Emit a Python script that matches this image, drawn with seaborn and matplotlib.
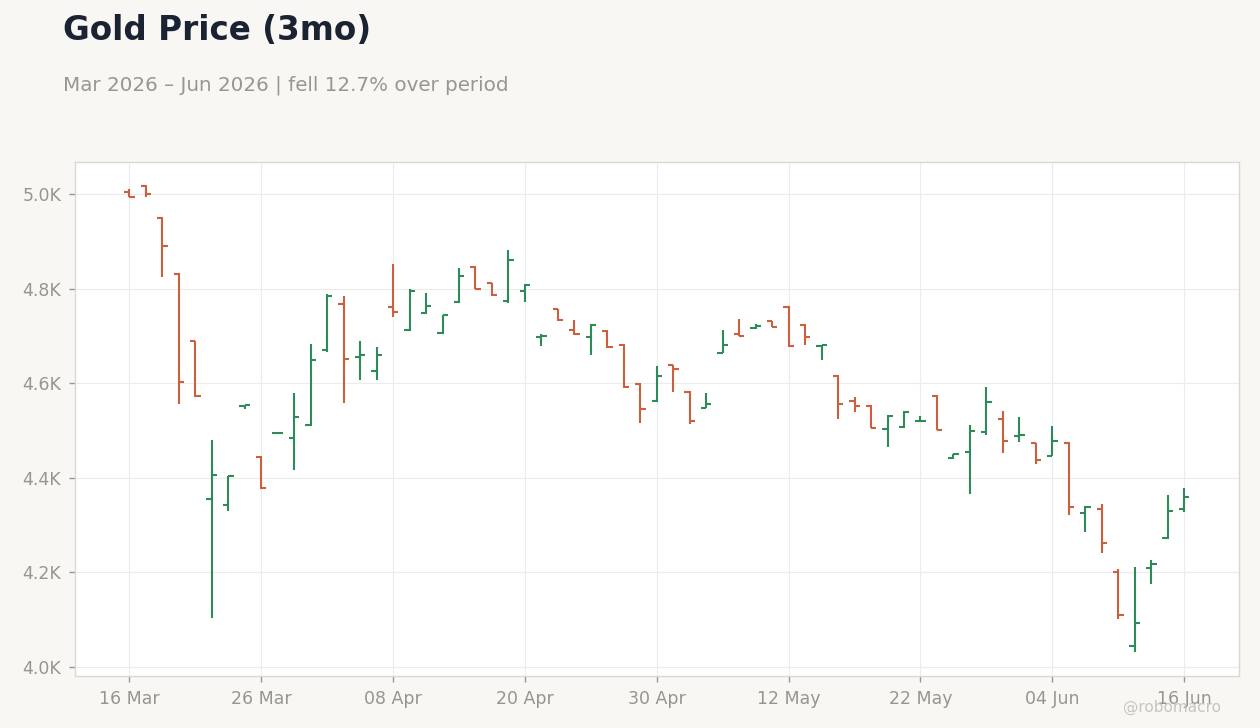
import numpy as np
import pandas as pd
import seaborn as sns
import matplotlib.pyplot as plt

# trading days 16 Mar - 16 Jun 2026 (Good Friday and Memorial Day closed)
holidays = ["2026-04-03", "2026-05-25"]
dates = pd.bdate_range("2026-03-16", "2026-06-16", freq="C", holidays=holidays)

opens = [5004, 5017, 4950, 4832, 4689, 4356, 4342, 4553, 4445, 4494, 4485, 4512,
         4670, 4767, 4656, 4625, 4761, 4712, 4748, 4706, 4772, 4846, 4812, 4774,
         4795, 4698, 4757, 4712, 4697, 4711, 4682, 4599, 4562, 4638, 4582, 4548,
         4665, 4705, 4716, 4731, 4762, 4724, 4679, 4616, 4563, 4553, 4504, 4508,
         4520, 4574, 4441, 4454, 4496, 4524, 4489, 4473, 4447, 4474, 4326, 4334,
         4201, 4045, 4210, 4273, 4335]
highs = [5010, 5019, 4951, 4833, 4690, 4481, 4404, 4555, 4446, 4496, 4580, 4684,
         4789, 4785, 4690, 4677, 4852, 4800, 4792, 4745, 4843, 4847, 4813, 4881,
         4811, 4704, 4758, 4733, 4725, 4712, 4683, 4600, 4636, 4639, 4583, 4579,
         4713, 4736, 4726, 4732, 4764, 4725, 4681, 4617, 4570, 4554, 4533, 4541,
         4530, 4575, 4451, 4512, 4592, 4541, 4528, 4474, 4510, 4475, 4340, 4345,
         4208, 4211, 4226, 4364, 4378]
lows = [4993, 4995, 4824, 4556, 4571, 4104, 4330, 4545, 4376, 4494, 4416, 4510,
        4667, 4559, 4606, 4608, 4740, 4711, 4746, 4704, 4770, 4799, 4784, 4770,
        4772, 4678, 4732, 4703, 4659, 4674, 4591, 4516, 4561, 4582, 4513, 4547,
        4664, 4699, 4714, 4718, 4676, 4680, 4650, 4525, 4540, 4505, 4466, 4505,
        4520, 4501, 4440, 4366, 4490, 4452, 4475, 4429, 4446, 4321, 4286, 4241,
        4102, 4032, 4176, 4271, 4328]
closes = [4994, 5000, 4891, 4603, 4573, 4407, 4403, 4554, 4378, 4495, 4529, 4649,
          4784, 4652, 4659, 4659, 4750, 4795, 4763, 4744, 4827, 4800, 4786, 4861,
          4808, 4699, 4733, 4705, 4724, 4676, 4593, 4545, 4616, 4631, 4520, 4557,
          4682, 4700, 4722, 4719, 4678, 4698, 4680, 4557, 4553, 4506, 4531, 4540,
          4521, 4502, 4450, 4500, 4561, 4477, 4490, 4437, 4477, 4338, 4338, 4262,
          4110, 4093, 4218, 4330, 4360]

df = pd.DataFrame({"date": dates, "open": opens, "high": highs,
                   "low": lows, "close": closes})
df["idx"] = np.arange(len(df))
up = df["close"] >= df["open"]

UP = "#2e8b57"
DOWN = "#cc5f3e"
BG = "#f8f7f4"

sns.set_theme(style="whitegrid")
plt.rcParams["font.family"] = ["DejaVu Sans"]

fig = plt.figure(figsize=(12.6, 7.28), dpi=100, facecolor=BG)
ax = fig.add_axes([0.0595, 0.0714, 0.9235, 0.7061])
ax.set_facecolor("white")

colors = np.where(up, UP, DOWN)
ax.vlines(df["idx"], df["low"], df["high"], colors=colors, linewidth=1.5, zorder=3)
ax.hlines(df["open"], df["idx"] - 0.32, df["idx"], colors=colors, linewidth=1.5, zorder=3)
ax.hlines(df["close"], df["idx"], df["idx"] + 0.32, colors=colors, linewidth=1.5, zorder=3)

tick_pos = df["idx"][::8]
ax.set_xticks(tick_pos)
ax.set_xticklabels(df["date"][::8].dt.strftime("%d %b"))
ax.set_xlim(-3.3, 67.3)
ax.set_ylim(3981, 5068)
ax.set_yticks([4000, 4200, 4400, 4600, 4800, 5000])
ax.set_yticklabels(["4.0K", "4.2K", "4.4K", "4.6K", "4.8K", "5.0K"])

ax.grid(True, color="#ececec", linewidth=0.8)
for s in ax.spines.values():
    s.set_color("#dcd7d2")
    s.set_linewidth(1)
ax.tick_params(axis="both", colors="#9a948f", labelsize=12.5, length=4, width=1,
               pad=6, direction="out", bottom=True, left=True)
ax.set_xlabel("")
ax.set_ylabel("")

fig.text(0.05, 0.945, "Gold Price (3mo)", fontsize=23.5, fontweight="bold",
         color="#1b2333")
fig.text(0.05, 0.876, "Mar 2026 \u2013 Jun 2026 | fell 12.7% over period",
         fontsize=14.3, color="#9a958f")
fig.text(0.969, 0.022, "@robomacro", fontsize=11, color="#c8c4c0", ha="right")

fig.savefig("out.png", dpi=100, facecolor=BG)
